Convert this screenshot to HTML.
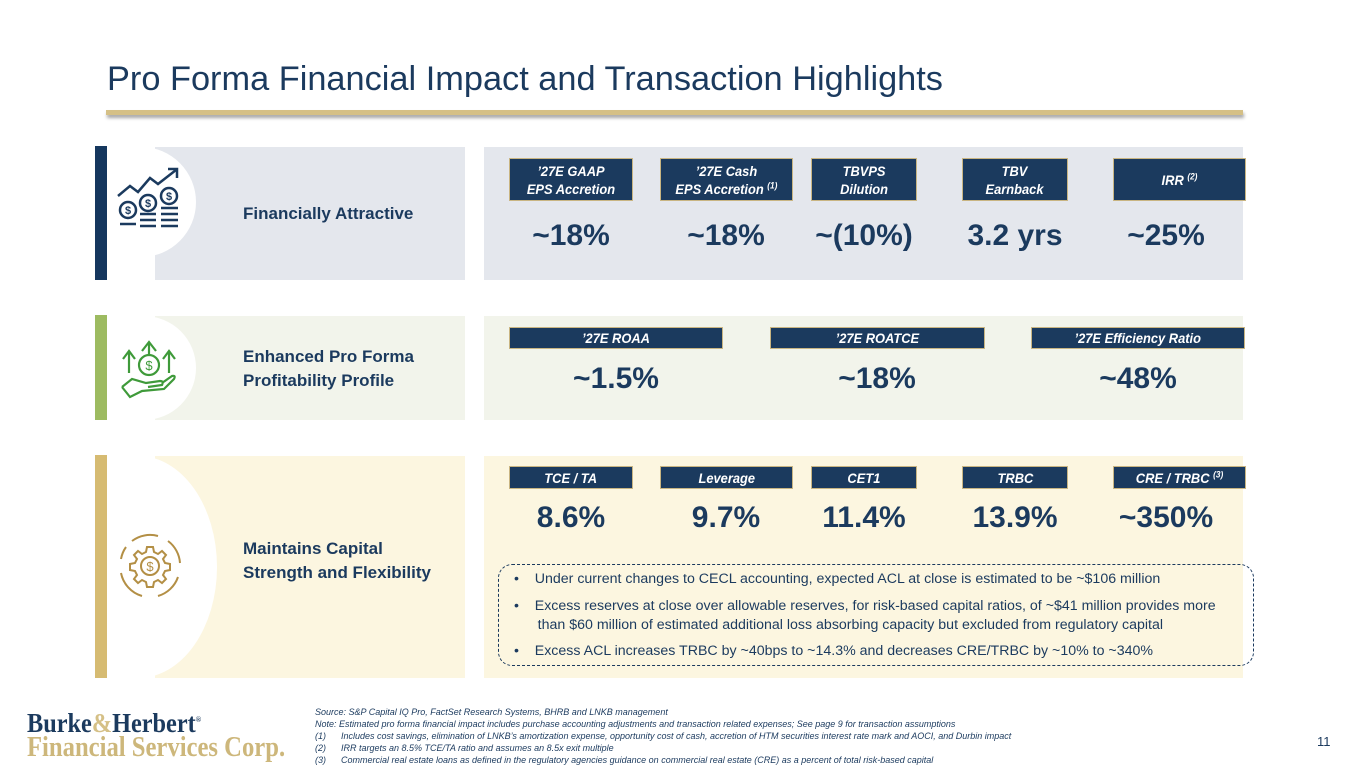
<!DOCTYPE html>
<html><head><meta charset="utf-8">
<style>
*{margin:0;padding:0;box-sizing:border-box}
body{width:1365px;height:768px;background:#fff;position:relative;overflow:hidden;font-family:"Liberation Sans",sans-serif;color:#1b3a5e}
.abs{position:absolute}
.c{display:inline-block;transform-origin:left top;white-space:nowrap}
.cc{display:inline-block;transform:scaleX(.92);transform-origin:center top;white-space:nowrap}
.box{position:absolute;background:#1b3a5e;border:1.5px solid #c9b582;color:#fff;font-weight:bold;font-style:italic;font-size:14px;text-align:center;display:flex;align-items:center;justify-content:center;line-height:18px}
.val{position:absolute;font-weight:bold;font-size:30px;text-align:center;color:#1b3a5e}
.lbl{position:absolute;font-weight:bold;font-size:17px;line-height:24px;color:#1b3a5e}
sup{font-size:9px;line-height:0}
.bul{position:absolute;font-size:14.2px;color:#1b3a5e;line-height:19px}
.fn{position:absolute;font-size:9px;font-style:italic;color:#1b3a5e;left:315px}
</style></head><body>
<div class="abs" style="left:107px;top:60px;font-size:34px;"><span class="c" style="transform:scaleX(1.01)">Pro Forma Financial Impact and Transaction Highlights</span></div>
<div class="abs" style="left:106px;top:110px;width:1137px;height:5px;background:#d5c086;box-shadow:1px 3px 3px rgba(0,0,0,.35)"></div>

<!-- Row 1 -->
<div class="abs" style="left:155px;top:147px;width:310px;height:133px;background:#e4e7ed"></div>
<div class="abs" style="left:107px;top:147px;width:89px;height:110px;background:#fff;border-radius:0 55px 55px 0"></div>
<div class="abs" style="left:95px;top:146px;width:12px;height:134px;background:#15375e"></div>
<svg class="abs" style="left:116px;top:166px" width="66" height="66" viewBox="0 0 66 66" fill="none" stroke="#1b3a5e" stroke-width="2.5">
<polyline points="2,30 14,20 22,26 34,12 42,18 60,4"/><polyline points="52,3 61,3 61,12"/>
<circle cx="12" cy="44" r="8"/><circle cx="32" cy="37" r="8"/><circle cx="53" cy="30" r="8"/>
<line x1="24" y1="48" x2="40" y2="48"/><line x1="24" y1="54" x2="40" y2="54"/><line x1="24" y1="60" x2="40" y2="60"/>
<line x1="45" y1="42" x2="62" y2="42"/><line x1="45" y1="48" x2="62" y2="48"/><line x1="45" y1="54" x2="62" y2="54"/><line x1="45" y1="60" x2="62" y2="60"/>
<line x1="4" y1="58" x2="20" y2="58"/>
<text x="12" y="48" font-size="11" fill="#1b3a5e" stroke="none" text-anchor="middle" font-weight="bold">$</text><text x="32" y="41" font-size="11" fill="#1b3a5e" stroke="none" text-anchor="middle" font-weight="bold">$</text><text x="53" y="34" font-size="11" fill="#1b3a5e" stroke="none" text-anchor="middle" font-weight="bold">$</text>
</svg>
<div class="lbl" style="left:243px;top:202px"><span class="c">Financially Attractive</span></div>
<div class="abs" style="left:484px;top:147px;width:759px;height:133px;background:#e4e7ed"></div>
<div class="box" style="left:509px;top:158px;width:124px;height:43px"><span class="cc">’27E GAAP<br>EPS Accretion</span></div>
<div class="box" style="left:660px;top:158px;width:133px;height:43px"><span class="cc">’27E Cash<br>EPS Accretion <sup>(1)</sup></span></div>
<div class="box" style="left:811px;top:158px;width:106px;height:43px"><span class="cc">TBVPS<br>Dilution</span></div>
<div class="box" style="left:962px;top:158px;width:106px;height:43px"><span class="cc">TBV<br>Earnback</span></div>
<div class="box" style="left:1113px;top:158px;width:133px;height:43px"><span class="cc">IRR <sup>(2)</sup></span></div>
<div class="val" style="left:491px;top:219px;width:160px">~18%</div>
<div class="val" style="left:646px;top:219px;width:160px">~18%</div>
<div class="val" style="left:784px;top:219px;width:160px">~(10%)</div>
<div class="val" style="left:935px;top:219px;width:160px">3.2 yrs</div>
<div class="val" style="left:1086px;top:219px;width:160px">~25%</div>

<!-- Row 2 -->
<div class="abs" style="left:155px;top:316px;width:310px;height:104px;background:#f2f4eb"></div>
<div class="abs" style="left:107px;top:316px;width:89px;height:104px;background:#fff;border-radius:0 52px 52px 0"></div>
<div class="abs" style="left:95px;top:315px;width:12px;height:105px;background:#9dbb61"></div>
<svg class="abs" style="left:120px;top:339px" width="58" height="60" viewBox="0 0 58 60" fill="none" stroke="#3f9a3a" stroke-width="2.2">
<circle cx="29" cy="26" r="10"/><text x="29" y="31" font-size="13" fill="#3f9a3a" stroke="none" text-anchor="middle">$</text>
<polyline points="22,12 29,3 36,12"/><line x1="29" y1="4" x2="29" y2="15"/>
<polyline points="3,20 9,12 15,20"/><line x1="9" y1="13" x2="9" y2="34"/>
<polyline points="43,20 49,12 55,20"/><line x1="49" y1="13" x2="49" y2="34"/>
<path d="M2,48 L12,40 L26,44 L40,42 Q44,42 42,46 L28,48 M2,48 L10,58 L22,52 L44,50 L54,40 Q56,36 52,37 L42,44"/>
</svg>
<div class="lbl" style="left:243px;top:345px"><span class="c">Enhanced Pro Forma<br>Profitability Profile</span></div>
<div class="abs" style="left:484px;top:316px;width:759px;height:104px;background:#f2f4eb"></div>
<div class="box" style="left:509px;top:327px;width:214px;height:22px"><span class="cc">’27E ROAA</span></div>
<div class="box" style="left:770px;top:327px;width:215px;height:22px"><span class="cc">’27E ROATCE</span></div>
<div class="box" style="left:1031px;top:327px;width:214px;height:22px"><span class="cc">’27E Efficiency Ratio</span></div>
<div class="val" style="left:536px;top:362px;width:160px">~1.5%</div>
<div class="val" style="left:797px;top:362px;width:160px">~18%</div>
<div class="val" style="left:1058px;top:362px;width:160px">~48%</div>

<!-- Row 3 -->
<div class="abs" style="left:155px;top:456px;width:310px;height:222px;background:#fcf6e0"></div>
<div class="abs" style="left:60px;top:456px;width:157px;height:222px;background:#fff;border-radius:0 50% 50% 0/0 50% 50% 0"></div>
<div class="abs" style="left:60px;top:456px;width:47px;height:222px;background:#fff"></div>
<div class="abs" style="left:95px;top:455px;width:12px;height:223px;background:#d6bb72"></div>
<svg class="abs" style="left:118px;top:533px" width="64" height="66" viewBox="0 0 64 66" fill="none" stroke="#b38f45" stroke-width="2">
<path d="M32,14 l3,0 1,5 4,2 4,-3 4,4 -3,4 2,4 5,1 0,6 -5,1 -2,4 3,4 -4,4 -4,-3 -4,2 -1,5 -6,0 -1,-5 -4,-2 -4,3 -4,-4 3,-4 -2,-4 -5,-1 0,-6 5,-1 2,-4 -3,-4 4,-4 4,3 4,-2 1,-5z"/>
<circle cx="32" cy="33" r="9"/><text x="32" y="38" font-size="13" fill="#b38f45" stroke="none" text-anchor="middle">$</text>
<path d="M14,8 A30,30 0 0 1 40,3"/><path d="M50,8 A30,30 0 0 1 62,30"/><path d="M60,44 A30,30 0 0 1 40,63"/><path d="M24,63 A30,30 0 0 1 3,40"/><path d="M3,26 A30,30 0 0 1 8,14"/>
</svg>
<div class="lbl" style="left:243px;top:537px"><span class="c">Maintains Capital<br>Strength and Flexibility</span></div>
<div class="abs" style="left:484px;top:456px;width:759px;height:222px;background:#fcf6e0"></div>
<div class="box" style="left:509px;top:466px;width:124px;height:23px"><span class="cc">TCE / TA</span></div>
<div class="box" style="left:660px;top:466px;width:133px;height:23px"><span class="cc">Leverage</span></div>
<div class="box" style="left:811px;top:466px;width:106px;height:23px"><span class="cc">CET1</span></div>
<div class="box" style="left:962px;top:466px;width:106px;height:23px"><span class="cc">TRBC</span></div>
<div class="box" style="left:1113px;top:466px;width:133px;height:23px"><span class="cc">CRE / TRBC <sup>(3)</sup></span></div>
<div class="val" style="left:491px;top:501px;width:160px">8.6%</div>
<div class="val" style="left:646px;top:501px;width:160px">9.7%</div>
<div class="val" style="left:784px;top:501px;width:160px">11.4%</div>
<div class="val" style="left:935px;top:501px;width:160px">13.9%</div>
<div class="val" style="left:1086px;top:501px;width:160px">~350%</div>
<div class="abs" style="left:498px;top:564px;width:756px;height:102px;border:1.5px dashed #1b3a5e;border-radius:14px"></div>
<div class="bul" style="left:514px;top:570px"><span class="c">•&nbsp;&nbsp;&nbsp;&nbsp;Under current changes to CECL accounting, expected ACL at close is estimated to be ~$106 million</span></div>
<div class="bul" style="left:514px;top:597px"><span class="c">•&nbsp;&nbsp;&nbsp;&nbsp;Excess reserves at close over allowable reserves, for risk-based capital ratios, of ~$41 million provides more<br>&nbsp;&nbsp;&nbsp;&nbsp;&nbsp;&nbsp;than $60 million of estimated additional loss absorbing capacity but excluded from regulatory capital</span></div>
<div class="bul" style="left:514px;top:642px"><span class="c">•&nbsp;&nbsp;&nbsp;&nbsp;Excess ACL increases TRBC by ~40bps to ~14.3% and decreases CRE/TRBC by ~10% to ~340%</span></div>

<!-- footer -->
<div class="abs" style="left:27px;top:711px;font-family:'Liberation Serif',serif;font-weight:bold;line-height:24px">
<div style="font-size:27px;color:#1b3a5e"><span class="c" style="transform:scaleX(.9)">Burke<span style="color:#d5c086">&amp;</span>Herbert<sup style="font-size:8px">®</sup></span></div>
<div style="font-size:29px;color:#cdb77b"><span class="c" style="transform:scaleX(.85)">Financial Services Corp.</span></div></div>
<div class="fn" style="top:707px"><span class="c">Source: S&amp;P Capital IQ Pro, FactSet Research Systems, BHRB and LNKB management</span></div>
<div class="fn" style="top:719px"><span class="c">Note: Estimated pro forma financial impact includes purchase accounting adjustments and transaction related expenses; See page 9 for transaction assumptions</span></div>
<div class="fn" style="top:731px"><span class="c">(1)&nbsp;&nbsp;&nbsp;&nbsp;&nbsp;&nbsp;Includes cost savings, elimination of LNKB’s amortization expense, opportunity cost of cash, accretion of HTM securities interest rate mark and AOCI, and Durbin impact</span></div>
<div class="fn" style="top:743px"><span class="c">(2)&nbsp;&nbsp;&nbsp;&nbsp;&nbsp;&nbsp;IRR targets an 8.5% TCE/TA ratio and assumes an 8.5x exit multiple</span></div>
<div class="fn" style="top:755px"><span class="c">(3)&nbsp;&nbsp;&nbsp;&nbsp;&nbsp;&nbsp;Commercial real estate loans as defined in the regulatory agencies guidance on commercial real estate (CRE) as a percent of total risk-based capital</span></div>
<div class="abs" style="left:1317px;top:734px;font-size:13px">11</div>
</body></html>
